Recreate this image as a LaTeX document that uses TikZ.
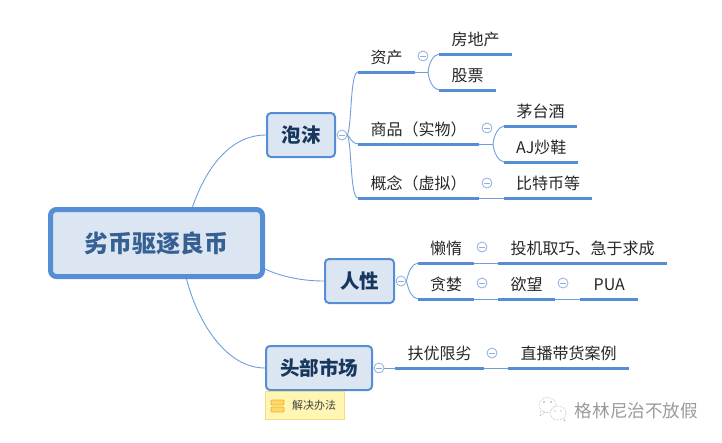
\documentclass[tikz,border=0pt]{standalone}
\usepackage{fontspec}
\setmainfont{Noto Sans CJK SC}
\usetikzlibrary{shapes.misc}
\definecolor{mapblue}{HTML}{558ED5}
\definecolor{linkblue}{HTML}{6E9FDD}
\definecolor{mapfill}{HTML}{DCE6F2}
\definecolor{roottext}{HTML}{376092}
\definecolor{topictext}{HTML}{17375E}
\definecolor{foldline}{HTML}{8FAFDC}
\definecolor{notefill}{HTML}{FFF6B3}
\definecolor{noteline}{HTML}{F5DC82}
\definecolor{notemark}{HTML}{FFD966}
\definecolor{notemarkline}{HTML}{F0B030}
\definecolor{wxgray}{HTML}{9A9A9A}
\tikzset{
  rootbox/.style={draw=mapblue, fill=mapfill, line width=5pt, rounded corners=6pt, minimum width=212pt, minimum height=67pt, font=\fontsize{24}{24}\selectfont\bfseries, text=roottext},
  topicbox/.style={draw=mapblue, fill=mapfill, line width=2pt, rounded corners=4pt, minimum height=44pt, inner sep=0pt, font=\fontsize{19.5}{20}\selectfont\bfseries, text=topictext},
  leaf/.style={anchor=south west, inner sep=0pt, minimum height=29pt, font=\fontsize{16}{16}\selectfont, text=black!85},
  fold/.style={circle, draw=foldline, fill=white, line width=0.8pt, minimum size=10pt, inner sep=0pt, path picture={\draw[foldline, line width=0.8pt] ([xshift=-3pt]path picture bounding box.center) -- ([xshift=3pt]path picture bounding box.center);}},
  bar/.style={mapblue, line width=3pt},
  link/.style={linkblue, line width=0.9pt},
  note/.style={draw=noteline, fill=notefill, line width=1pt, minimum width=79pt, minimum height=28pt, inner sep=0pt, font=\fontsize{11}{11}\selectfont, text=black!75},
  notemark/.style={draw=notemarkline, fill=notemark, line width=0.8pt, rounded corners=1pt},
  wx/.style={wxgray, line width=0.5pt, densely dotted}
}
\begin{document}
\begin{tikzpicture}[x=1pt, y=-1pt]
\useasboundingbox (0,0) rectangle (722,442);
% Central box and main topics
    \node[rootbox] (root) at (156.5,243) {\raisebox{-1.5pt}{劣币驱逐良币}};
    \node[topicbox, minimum width=68pt] (paomo) at (301,135) {\raisebox{-1pt}{泡沫}};
    \node[topicbox, minimum width=69pt] (renxing) at (359.5,281) {\raisebox{-1pt}{人性}};
    \node[topicbox, minimum width=106pt] (toubu) at (319,368) {\raisebox{-1pt}{头部市场}};
    \node[note] (jiejue) at (304.5,405) {\hspace*{19pt}解决办法};
% Main links
    \draw[link] ([xshift=36pt]root.north) .. controls (206,168) and (230,135) .. (paomo.west);
    \draw[link] ([yshift=-26pt]root.east) .. controls (282,277) and (303,281) .. (renxing.west);
    \draw[link] ([xshift=30pt]root.south) .. controls (197,320) and (225,368) .. (toubu.west);
% Fold marks
    \node[fold] (foldpaomo) at (342,135) {};
    \node[fold] (foldrenxing) at (401,281) {};
    \node[fold] (foldtoubu) at (379,368) {};
    \node[fold] (foldzichan) at (423,56) {};
    \node[fold] (foldshangpin) at (487,128) {};
    \node[fold] (foldgainian) at (487,183) {};
    \node[fold] (foldlanduo) at (482,247) {};
    \node[fold] (foldtanlan) at (482,283) {};
    \node[fold] (foldyuwang) at (563,283) {};
    \node[fold] (foldfuyou) at (492,353) {};
% Leaves of the first topic
    \node[leaf, minimum width=57pt] (zichan) at (358,72) {资产};
    \node[leaf, minimum width=121pt] (shangpin) at (358,144) {商品（实物）};
    \node[leaf, minimum width=121pt] (gainian) at (358,198) {概念（虚拟）};
    \node[leaf, minimum width=73pt] (fangdichan) at (439,54) {房地产};
    \node[leaf, minimum width=57pt] (gupiao) at (439,90) {股票};
    \node[leaf, minimum width=73pt] (maotai) at (504,126) {茅台酒};
    \node[leaf, minimum width=74pt] (ajxie) at (504,162) {AJ炒鞋};
    \node[leaf, minimum width=88pt] (bitebi) at (504,198) {比特币等};
% Leaves of the second topic
    \node[leaf, minimum width=56pt] (landuo) at (418,263) {懒惰};
    \node[leaf, minimum width=56pt] (tanlan) at (418,299) {贪婪};
    \node[leaf, minimum width=169pt] (touji) at (498,263) {投机取巧、急于求成};
    \node[leaf, minimum width=57pt] (yuwang) at (498,299) {欲望};
    \node[leaf, minimum width=58pt] (pua) at (580,299) {PUA};
% Leaves of the third topic
    \node[leaf, minimum width=89pt] (fuyou) at (395,368) {扶优限劣};
    \node[leaf, minimum width=121pt] (zhibo) at (508,368) {直播带货案例};
% Fork points
    \coordinate (forkzichan) at (428,72);
    \coordinate (forkshangpin) at (493,144);
% Thin links
    \draw[link] (foldpaomo.east) .. controls (352,125) and (350,72) .. (zichan.south west);
    \draw[link] (foldpaomo.east) .. controls (350,137) and (352,144) .. (shangpin.south west);
    \draw[link] (foldpaomo.east) .. controls (352,145) and (350,198) .. (gainian.south west);
    \draw[link] (zichan.south east) -- (forkzichan);
    \draw[link] (forkzichan) .. controls (429,63) and (433,55) .. (fangdichan.south west);
    \draw[link] (forkzichan) .. controls (429,81) and (433,89) .. (gupiao.south west);
    \draw[link] (shangpin.south east) -- (forkshangpin);
    \draw[link] (forkshangpin) .. controls (494,135) and (498,127) .. (maotai.south west);
    \draw[link] (forkshangpin) .. controls (494,153) and (498,161) .. (ajxie.south west);
    \draw[link] (gainian.south east) -- (bitebi.south west);
    \draw[link] (foldrenxing.east) .. controls (409,270) and (412,264) .. (landuo.south west);
    \draw[link] (foldrenxing.east) .. controls (409,292) and (412,298) .. (tanlan.south west);
    \draw[link] (landuo.south east) -- (touji.south west);
    \draw[link] (tanlan.south east) -- (yuwang.south west);
    \draw[link] (yuwang.south east) -- (pua.south west);
    \draw[link] (foldtoubu.east) -- (fuyou.south west);
    \draw[link] (fuyou.south east) -- (zhibo.south west);
% Thick bars under the leaves
    \draw[bar] (zichan.south west) -- (zichan.south east);
    \draw[bar] (shangpin.south west) -- (shangpin.south east);
    \draw[bar] (gainian.south west) -- (gainian.south east);
    \draw[bar] (fangdichan.south west) -- (fangdichan.south east);
    \draw[bar] (gupiao.south west) -- (gupiao.south east);
    \draw[bar] (maotai.south west) -- (maotai.south east);
    \draw[bar] (ajxie.south west) -- (ajxie.south east);
    \draw[bar] (bitebi.south west) -- (bitebi.south east);
    \draw[bar] (landuo.south west) -- (landuo.south east);
    \draw[bar] (tanlan.south west) -- (tanlan.south east);
    \draw[bar] (touji.south west) -- (touji.south east);
    \draw[bar] (yuwang.south west) -- (yuwang.south east);
    \draw[bar] (pua.south west) -- (pua.south east);
    \draw[bar] (fuyou.south west) -- (fuyou.south east);
    \draw[bar] (zhibo.south west) -- (zhibo.south east);
% Note mark
    \draw[notemark] (271,400) rectangle (284,405);
    \draw[notemark] (271,407) rectangle (284,412);
% Signature bottom right
    \draw[wx] (547.5,405) ellipse (8.5 and 7.5);
    \draw[wx] (541,411) -- (540,416) -- (545,412);
    \draw[wx, fill=white] (558,413) ellipse (8 and 7);
    \draw[wx] (563,419) -- (565,421) -- (564,418);
    \fill[wxgray] (544,402) circle (0.8);
    \fill[wxgray] (551,402) circle (0.8);
    \fill[wxgray] (555,411) circle (0.7);
    \fill[wxgray] (561,411) circle (0.7);
    \node[font=\fontsize{17.6}{17.6}\selectfont, text=wxgray] (qianming) at (636.5,411) {格林尼治不放假};
\end{tikzpicture}
\end{document}
